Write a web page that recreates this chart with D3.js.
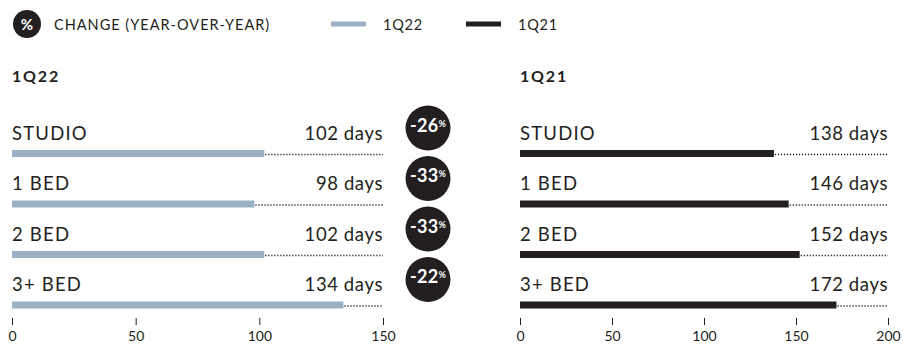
<!DOCTYPE html>
<html>
<head>
<meta charset="utf-8">
<script src="https://cdn.jsdelivr.net/npm/d3@7"></script>
<style>
  html, body { margin: 0; padding: 0; background: #fff; }
  svg { display: block; font-family: Lato, "Noto Sans", sans-serif; }
</style>
</head>
<body>
<svg id="chart" width="903" height="344"></svg>
<script>
// Unit types and days on market
const categories = ["STUDIO", "1 BED", "2 BED", "3+ BED"];
const days1Q22 = [102, 98, 102, 134];
const days1Q21 = [138, 146, 152, 172];
const changePct = [-26, -33, -33, -22];
const ticksLeft = [0, 50, 100, 150];
const ticksRight = [0, 50, 100, 150, 200];

const colorLight = "#9bb1c3";
const colorDark = "#231f20";
const textColor = "#231f20";

const svg = d3.select("#chart");

// Header: % badge and legend
const header = svg.append("g");
header.append("circle").attr("cx", 27).attr("cy", 24).attr("r", 14).attr("fill", colorDark);
header.append("text").attr("x", 27).attr("y", 29.5).attr("text-anchor", "middle")
  .attr("fill", "#fff").attr("font-size", 15).attr("font-weight", 700).text("%");
header.append("text").attr("x", 54).attr("y", 30).attr("fill", textColor)
  .attr("font-size", 14.5).attr("letter-spacing", 1).text("CHANGE (YEAR-OVER-YEAR)");

const legend = [{ label: "1Q22", color: colorLight, x: 331 }, { label: "1Q21", color: colorDark, x: 466 }];
legend.forEach(d => {
  header.append("rect").attr("x", d.x).attr("y", 21.5).attr("width", 35).attr("height", 5).attr("fill", d.color);
  header.append("text").attr("x", d.x + 52).attr("y", 30).attr("fill", textColor)
    .attr("font-size", 14.5).attr("letter-spacing", 0.8).text(d.label);
});

const y = d3.scaleBand().domain(categories).range([103.5, 305.5]).paddingInner(0).paddingOuter(0);

function panel(opts) {
  const g = svg.append("g");
  const x = d3.scaleLinear().domain(opts.domain).range(opts.range);

  g.append("text").attr("x", opts.range[0]).attr("y", 81.5).attr("fill", textColor)
    .attr("font-size", 16).attr("font-weight", 700).attr("letter-spacing", 1.8).text(opts.title);

  const rows = g.selectAll("g.row").data(categories).join("g").attr("class", "row")
    .attr("transform", d => `translate(0,${y(d)})`);

  rows.append("text").attr("x", opts.range[0]).attr("y", 36).attr("fill", textColor)
    .attr("font-size", 18.5).attr("letter-spacing", 1.2).text(d => d);

  rows.append("text").attr("x", opts.range[1]).attr("y", 36).attr("text-anchor", "end")
    .attr("fill", textColor).attr("font-size", 18.5).attr("letter-spacing", 0.6)
    .text((d, i) => `${opts.values[i]} days`);

  rows.append("line")
    .attr("x1", (d, i) => x(opts.values[i]) + 1).attr("x2", opts.range[1])
    .attr("y1", 51).attr("y2", 51)
    .attr("stroke", colorDark).attr("stroke-width", 1.5).attr("stroke-dasharray", "1.2,1.8");

  rows.append("rect").attr("x", x(0)).attr("y", 46.5)
    .attr("width", (d, i) => x(opts.values[i]) - x(0)).attr("height", 7)
    .attr("fill", opts.color);

  const axis = d3.axisBottom(x).tickValues(opts.ticks).tickSize(7).tickPadding(6);
  const ag = g.append("g").attr("transform", "translate(0,318)").call(axis);
  ag.select(".domain").remove();
  ag.selectAll(".tick line").attr("stroke", textColor).attr("stroke-width", 1);
  ag.selectAll(".tick text").attr("fill", textColor).attr("font-size", 14)
    .attr("font-family", "Lato, 'Noto Sans', sans-serif");
}

panel({ title: "1Q22", domain: [0, 150], range: [12, 383], values: days1Q22, color: colorLight, ticks: ticksLeft });
panel({ title: "1Q21", domain: [0, 200], range: [520, 888], values: days1Q21, color: colorDark, ticks: ticksRight });

// Year-over-year change badges
const badges = svg.selectAll("g.badge").data(categories).join("g").attr("class", "badge")
  .attr("transform", d => `translate(428,${y(d) + 24.5})`);
badges.append("circle").attr("r", 22.5).attr("fill", colorDark);
const bt = badges.append("text").attr("x", 0).attr("y", 3.5).attr("text-anchor", "middle")
  .attr("fill", "#fff").attr("font-weight", 700);
bt.append("tspan").attr("font-size", 18).attr("letter-spacing", 0.3).text((d, i) => changePct[i]);
bt.append("tspan").attr("font-size", 9).attr("dy", -5).text("%");
</script>
</body>
</html>
